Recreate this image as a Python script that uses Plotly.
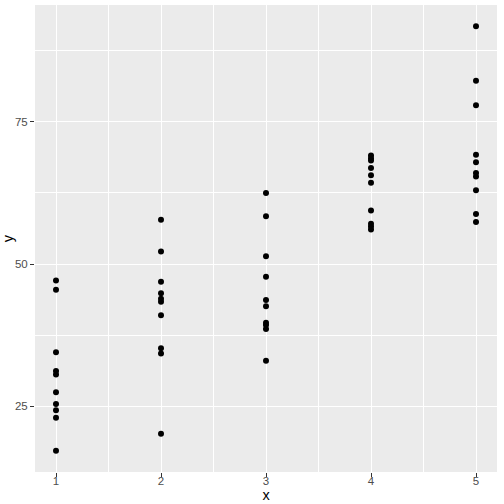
import plotly.graph_objects as go

x_groups = [1, 2, 3, 4, 5]
y_group1 = [47.1, 45.5, 34.5, 31.2, 30.6, 27.5, 25.4, 24.3, 23.0, 17.2]
y_group2 = [57.8, 52.2, 46.9, 44.9, 43.9, 43.4, 41.0, 35.2, 34.3, 20.2]
y_group3 = [62.5, 58.4, 51.4, 47.8, 43.7, 42.6, 39.7, 39.3, 38.6, 33.0]
y_group4 = [69.1, 68.6, 68.2, 66.9, 65.6, 64.3, 59.4, 57.1, 56.6, 56.1]
y_group5 = [91.8, 82.2, 77.9, 69.2, 67.9, 66.0, 65.4, 63.0, 58.8, 57.4]

y_values = [y_group1, y_group2, y_group3, y_group4, y_group5]
xs = [g for g, ys in zip(x_groups, y_values) for _ in ys]
ys = [v for vals in y_values for v in vals]

fig = go.Figure(go.Scatter(
    x=xs, y=ys, mode="markers",
    marker=dict(color="black", size=6),
    hoverinfo="x+y",
))

axis_common = dict(
    showgrid=True, gridcolor="white", gridwidth=1.1,
    zeroline=False, showline=False, automargin=False,
    ticks="outside", ticklen=4, tickwidth=1, tickcolor="#333333",
    tickfont=dict(size=11.5, color="#4d4d4d"),
)

fig.update_xaxes(
    range=[0.8, 5.2], tickvals=x_groups, ticklabelstandoff=-6,
    minor=dict(tick0=0.5, dtick=1, showgrid=True, gridcolor="white", gridwidth=0.55, ticks=""),
    title=dict(text="x", font=dict(size=14.5, color="black"), standoff=2),
    **axis_common,
)
fig.update_yaxes(
    range=[13.47, 95.53], tickvals=[25, 50, 75], ticklabelstandoff=0,
    minor=dict(tick0=12.5, dtick=25, showgrid=True, gridcolor="white", gridwidth=0.55, ticks=""),
    title=dict(text="y", font=dict(size=14.5, color="black"), standoff=1),
    **axis_common,
)

fig.update_layout(
    template="none",
    width=504, height=504,
    margin=dict(l=35, r=7, t=5, b=32, autoexpand=False),
    plot_bgcolor="#ebebeb", paper_bgcolor="white",
    font=dict(family="Liberation Sans, Arial, sans-serif", color="#4d4d4d"),
    showlegend=False,
)

# the page body has a default 8px margin; drop it so the figure sits at 0,0
fig.write_html("out.html", config={"displayModeBar": False},
               post_script="document.body.style.margin='0';")
